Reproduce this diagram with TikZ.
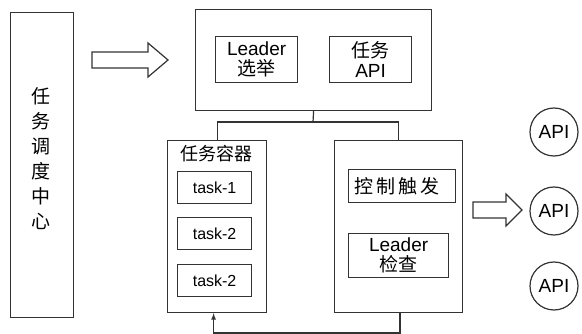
\documentclass[tikz,border=0pt]{standalone}
\usepackage{fontspec}
\setmainfont{Liberation Sans}
\newfontfamily\cjk{Noto Sans CJK SC}
\begin{document}
\begin{tikzpicture}[x=1pt,y=-1pt,
  line/.style={draw=black!80,line width=1.2pt},
  box/.style={line,rectangle,inner sep=0pt,anchor=north west},
  lbl/.style={font=\fontsize{19}{20}\selectfont,align=center,inner sep=0pt},
  tasktxt/.style={font=\fontsize{16}{18}\selectfont,inner sep=0pt},
  api/.style={line,circle,minimum size=48pt,inner sep=0pt,font=\fontsize{19}{19}\selectfont},
  hollow/.style={line,fill=white,line join=miter}]
\useasboundingbox (0,0) rectangle (582,334);

% scheduling centre
\node[box,minimum width=63pt,minimum height=305pt] (sched) at (10,12) {};
\node[lbl,font=\cjk\fontsize{19}{25}\selectfont] (schedtxt) at (41,159)
  {任\\务\\调\\度\\中\\心};

% hollow arrow towards the upper block
\draw[hollow] (92,52) -- (148,52) -- (148,43) -- (168,60) -- (148,77)
  -- (148,68) -- (92,68) -- cycle;

% upper block
\node[box,minimum width=236pt,minimum height=101pt] (top) at (195,9) {};
\node[box,minimum width=82pt,minimum height=46pt] (elect) at (215,36) {};
\node[lbl,font=\fontsize{19}{20}\selectfont] (electtxt) at (elect.center)
  {Leader\\{\cjk 选举}};
\node[box,minimum width=82pt,minimum height=46pt] (tapi) at (329,36) {};
\node[lbl,font=\fontsize{19}{20}\selectfont] (tapitxt) at (tapi.center)
  {{\cjk 任务}\\API};

% task container
\node[box,minimum width=99pt,minimum height=172pt] (cont) at (167,140) {};
\node[lbl,font=\cjk\fontsize{18}{18}\selectfont] (conttxt) at (216.5,154) {任务容器};
\node[box,minimum width=74pt,minimum height=32pt] (t1) at (177,171) {};
\node[tasktxt] at (t1.center) {task-1};
\node[box,minimum width=74pt,minimum height=32pt] (t2) at (177,217) {};
\node[tasktxt] at (t2.center) {task-2};
\node[box,minimum width=74pt,minimum height=32pt] (t3) at (177,264) {};
\node[tasktxt] at (t3.center) {task-2};

% control block
\node[box,minimum width=128pt,minimum height=172pt] (ctrl) at (334,140) {};
\node[box,minimum width=107pt,minimum height=33pt] (trig) at (348,169) {};
\node[lbl,font=\cjk\fontsize{19}{20}\selectfont] (trigtxt) at ([xshift=-5pt]trig.center)
  {控\,制\,触\,发};
\node[box,minimum width=100pt,minimum height=44pt] (chk) at (348,233) {};
\node[lbl,font=\fontsize{19}{20}\selectfont] (chktxt) at (chk.center)
  {Leader\\{\cjk 检查}};

% connectors between blocks
\coordinate (j) at (313,122);
\draw[line] (top.south) -- (j);
\draw[line] (cont.north) |- (j) -| (ctrl.north);
\coordinate (b) at (400,333);
\draw[line,-latex] (ctrl.south -| b) -- (b) -| ([xshift=-3.5pt]cont.south);

% hollow arrow towards the APIs
\draw[hollow] (473,202) -- (506,202) -- (506,194) -- (522,210) -- (506,226)
  -- (506,218) -- (473,218) -- cycle;

% API endpoints
\node[api] (api1) at (554,132) {API};
\node[api] (api2) at (554,211) {API};
\node[api] (api3) at (554,286) {API};
\end{tikzpicture}
\end{document}
